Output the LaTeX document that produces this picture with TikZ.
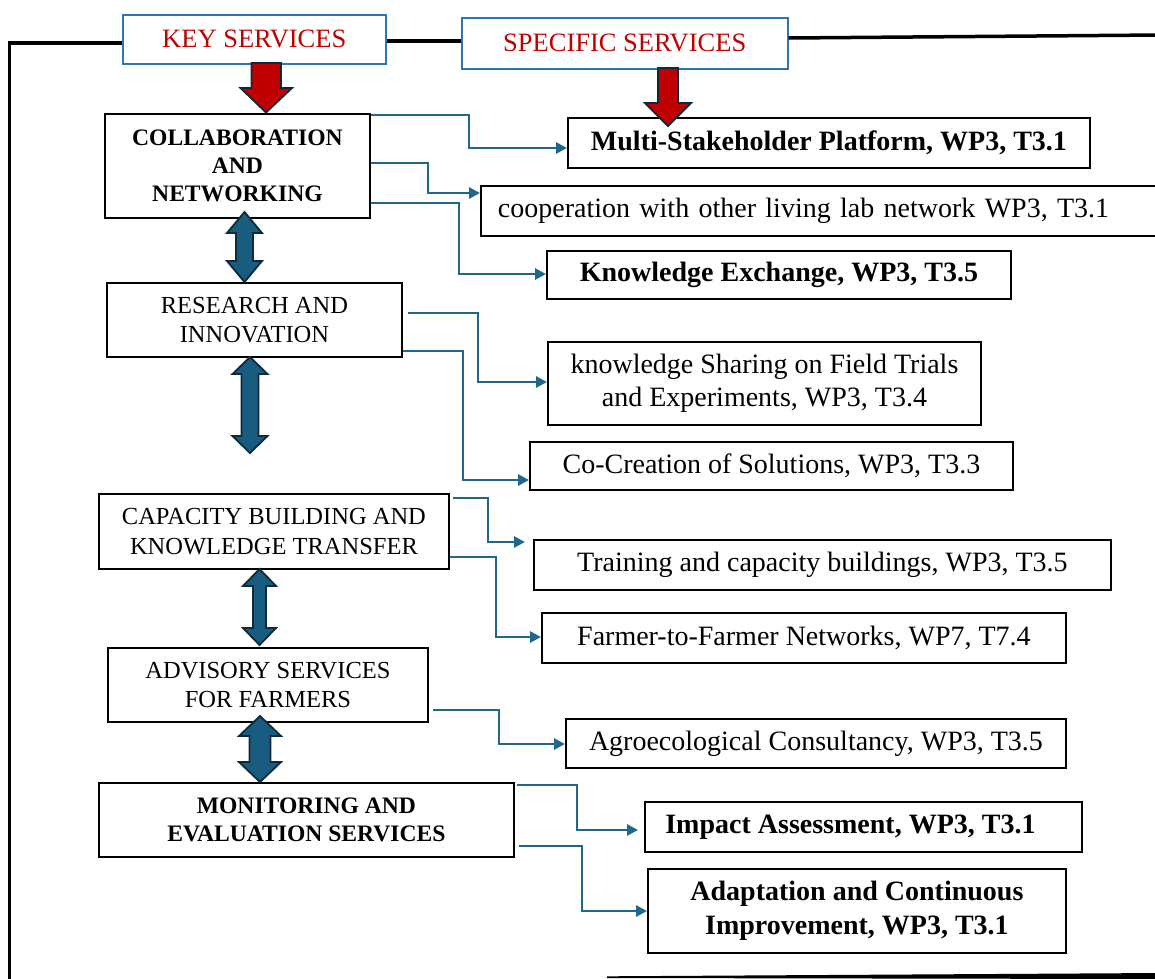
\documentclass[tikz,border=0pt]{standalone}
\usepackage{fontspec}
\setmainfont{Liberation Serif}
\usetikzlibrary{arrows.meta}
\definecolor{hdrblue}{RGB}{46,117,182}
\definecolor{hdrred}{RGB}{192,0,0}
\definecolor{connblue}{RGB}{31,104,140}
\definecolor{dafill}{RGB}{24,92,128}
\definecolor{daedge}{RGB}{14,42,58}
\newcommand\dblarr[6]{%
  \filldraw[dblarrow] (#1,#2) -- (#1+#5,#2+#6) -- (#1+#4,#2+#6) -- (#1+#4,#3-#6) -- (#1+#5,#3-#6) -- (#1,#3)
  -- (#1-#5,#3-#6) -- (#1-#4,#3-#6) -- (#1-#4,#2+#6) -- (#1-#5,#2+#6) -- cycle;}
\begin{document}
\begin{tikzpicture}[x=1pt,y=-1pt,
  box/.style={draw=black, line width=1.9pt, inner sep=0pt, align=center, anchor=north west, fill=white},
  hdr/.style={draw=hdrblue, line width=1.5pt, inner sep=0pt, anchor=north west, fill=white, text=hdrred,
     font=\fontsize{26.5}{30}\selectfont},
  lft/.style={box, font=\fontsize{24.5}{29.4}\selectfont},
  lftb/.style={box, font=\fontsize{23.6}{28.3}\selectfont\bfseries},
  rgt/.style={box, font=\fontsize{28}{33.6}\selectfont},
  rgtb/.style={box, font=\fontsize{28}{33.6}\selectfont\bfseries},
  conn/.style={draw=connblue, line width=2.8pt, -{Triangle[length=11pt,width=11pt]}},
  frame/.style={draw=black, line width=3.5pt},
  redarrow/.style={fill=hdrred, draw=daedge, line width=1.8pt, line join=miter},
  dblarrow/.style={fill=dafill, draw=daedge, line width=1.8pt, line join=miter}]
\useasboundingbox (0,0) rectangle (1155,978);

% header boxes
\node[hdr, minimum width=263, minimum height=49] (key) at (122,14) {KEY SERVICES};
\node[hdr, minimum width=326, minimum height=51] (spec) at (461,17) {SPECIFIC SERVICES};

% frame lines
\draw[frame] (key.west |- 0,43) -- (9.6,43) -- (9.6,980);
\draw[frame] (key.east |- 0,41) -- (spec.west |- 0,41);
\draw[frame] (spec.east |- 0,38) -- (1160,35);
\fill[black] (607,976.3) -- (1160,973) -- (1160,979) -- (607,978) -- cycle;

% left boxes
\node[lftb, minimum width=265, minimum height=104] (collab) at (104,113) {COLLABORATION\\AND\\NETWORKING};
\node[lft, minimum width=295, minimum height=74] (res) at (106,282) {RESEARCH AND\\INNOVATION};
\node[lft, minimum width=350, minimum height=75] (cap) at (98,493) {CAPACITY BUILDING AND\\KNOWLEDGE TRANSFER};
\node[lft, minimum width=320, minimum height=74] (adv) at (107,647) {ADVISORY SERVICES\\FOR FARMERS};
\node[lftb, minimum width=415, minimum height=74] (mon) at (98,782) {MONITORING AND\\EVALUATION SERVICES};

% right boxes
\node[rgtb, minimum width=522, minimum height=50] (multi) at (567,117) {Multi-Stakeholder Platform, WP3, T3.1};
\node[rgt, minimum height=50, text width=656, inner xsep=17, align=left] (coop) at (480,185) {cooperation with other living lab network WP3, T3.1};
\node[rgtb, minimum width=464, minimum height=48] (kex) at (546,250) {Knowledge Exchange, WP3, T3.5};
\node[rgt, minimum width=433, minimum height=83] (ksh) at (547,341) {knowledge Sharing on Field Trials\\and Experiments, WP3, T3.4};
\node[rgt, minimum width=483, minimum height=48] (cocr) at (529,441) {Co-Creation of Solutions, WP3, T3.3};
\node[rgt, minimum width=577, minimum height=50] (train) at (533,539) {Training and capacity buildings, WP3, T3.5};
\node[rgt, minimum width=524, minimum height=50] (f2f) at (541,612) {Farmer-to-Farmer Networks, WP7, T7.4};
\node[rgt, minimum width=500, minimum height=49] (agro) at (565,718) {Agroecological Consultancy, WP3, T3.5};
\node[rgtb, minimum width=437, minimum height=50] (impact) at (644,801) {Impact Assessment, WP3, T3.1\hspace{26pt}};
\node[rgtb, minimum width=418, minimum height=84] (adapt) at (647,868) {Adaptation and Continuous\\Improvement, WP3, T3.1};

% connectors
\draw[conn] (collab.east |- 0,115) -- (469,115) |- (multi.west |- 0,148);
\draw[conn] (collab.east |- 0,163) -- (428,163) |- (coop.west |- 0,193);
\draw[conn] (collab.east |- 0,203) -- (459,203) |- (kex.west |- 0,274);
\draw[conn] ([xshift=5pt]res.east |- 0,313) -- (478,313) |- (ksh.west |- 0,382);
\draw[conn] (res.east |- 0,351) -- (463,351) |- (cocr.west |- 0,480);
\draw[conn] ([xshift=3pt]cap.east |- 0,498) -- (488,498) |- ([xshift=-8pt]train.west |- 0,542);
\draw[conn] (cap.east |- 0,557) -- (496,557) |- (f2f.west |- 0,637);
\draw[conn] ([xshift=4pt]adv.east |- 0,710) -- (499,710) |- (agro.west |- 0,744);
\draw[conn] ([xshift=2pt]mon.east |- 0,785) -- (577,785) |- ([xshift=-6pt]impact.west |- 0,830);
\draw[conn] ([xshift=4pt]mon.east |- 0,846) -- (582,846) |- (adapt.west |- 0,911);

% red block arrows
\filldraw[redarrow] (251.5,63) -- (281,63) -- (281,88) -- (292,88) -- (266,112.5) -- (240.5,88) -- (251.5,88) -- cycle;
\filldraw[redarrow] (658,68) -- (678,68) -- (678,103) -- (691,103) -- (668,126) -- (645,103) -- (658,103) -- cycle;

% double arrows
\dblarr{244.5}{212}{282}{8.5}{17.5}{21}
\dblarr{250}{357}{453}{8.5}{17.5}{17}
\dblarr{259.5}{569}{645}{6.5}{16.5}{17}
\dblarr{260}{716}{782}{10.5}{21}{20}
\end{tikzpicture}
\end{document}
